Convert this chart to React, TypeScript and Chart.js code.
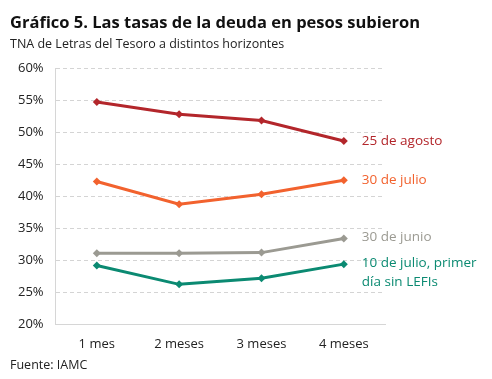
import React, { useEffect, useRef } from "react";
import { Chart, registerables } from "chart.js";

Chart.register(...registerables);

const categories = ["1 mes", "2 meses", "3 meses", "4 meses"];
const agosto25 = [54.7, 52.8, 51.8, 48.6];
const julio30 = [42.3, 38.75, 40.3, 42.5];
const junio30 = [31.1, 31.1, 31.2, 33.4];
const julio10 = [29.2, 26.25, 27.2, 29.4];
const yTicks = [20, 25, 30, 35, 40, 45, 50, 55, 60];

const seriesNames = ["25 de agosto", "30 de julio", "30 de junio", "10 de julio, primer|día sin LEFIs"];
const colors = ["#b3262b", "#f2622e", "#9b9a92", "#0b8a72"];

const FONT = "'Open Sans', sans-serif";

const labelPlugin = {
  id: "annot",
  afterDraw(chart: any) {
    const ctx = chart.ctx;
    ctx.save();
    ctx.textBaseline = "middle";
    ctx.fillStyle = "#111";
    ctx.font = `bold 16.5px ${FONT}`;
    ctx.textAlign = "left";
    ctx.fillText("Gráfico 5. Las tasas de la deuda en pesos subieron", 10, 23);
    ctx.font = `12.5px ${FONT}`;
    ctx.fillStyle = "#222";
    ctx.fillText("TNA de Letras del Tesoro a distintos horizontes", 10, 44);
    ctx.fillText("Fuente: IAMC", 10, 365);
    const x = chart.scales.x;
    const y = chart.scales.y;
    const datasets = chart.data.datasets;
    const offsets = [0, 0, -1, -1];
    datasets.forEach((ds: any, i: number) => {
      const last = ds.data[ds.data.length - 1];
      const px = x.getPixelForValue(ds.data.length - 1) + 18;
      const py = y.getPixelForValue(last) + offsets[i];
      ctx.fillStyle = colors[i];
      ctx.font = `13.5px ${FONT}`;
      const lines = seriesNames[i].split("|");
      lines.forEach((l, k) => ctx.fillText(l, px, py + k * 19));
    });
    ctx.restore();
  },
};

export default function App() {
  const ref = useRef<HTMLCanvasElement>(null);
  useEffect(() => {
    const chart = new Chart(ref.current!, {
      type: "line",
      data: {
        labels: categories,
        datasets: [agosto25, julio30, junio30, julio10].map((d, i) => ({
          label: seriesNames[i],
          data: d,
          borderColor: colors[i],
          backgroundColor: colors[i],
          borderWidth: 3,
          pointStyle: "rectRot",
          pointRadius: 4,
          pointBorderWidth: 0,
          tension: 0,
        })),
      },
      options: {
        animation: false,
        responsive: false,
        maintainAspectRatio: false,
        layout: { padding: { top: 68, right: 107, bottom: 15, left: 6 } },
        plugins: { legend: { display: false }, tooltip: { enabled: false } },
        scales: {
          x: {
            offset: true,
            grid: { display: false, drawTicks: false },
            border: { display: true, color: "#d6d6d6", width: 1 },
            ticks: { color: "#222", font: { family: FONT, size: 13 }, padding: 12 },
          },
          y: {
            min: 20,
            max: 60,
            afterBuildTicks: (s: any) => {
              s.ticks = yTicks.map((v) => ({ value: v }));
            },
            grid: { color: "#d4d4d4", drawTicks: false, lineWidth: 1 },
            border: { display: true, color: "#d6d6d6", dash: [4, 3] },
            ticks: {
              color: "#222",
              font: { family: FONT, size: 13 },
              padding: 12,
              callback: (v: any) => v + "%",
            },
          },
        },
      },
      plugins: [labelPlugin],
    });
    return () => chart.destroy();
  }, []);
  return (
    <div style={{ position: "fixed", left: 0, top: 0, width: 492, height: 379, background: "#fff" }}>
      <canvas ref={ref} width={492} height={379} style={{ width: 492, height: 379 }} />
    </div>
  );
}
